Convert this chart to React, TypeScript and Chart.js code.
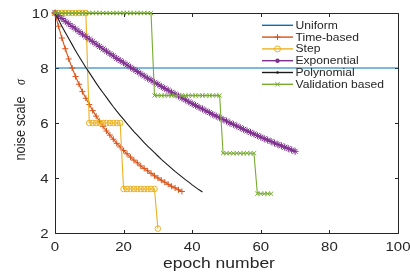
import React, { useEffect, useRef } from "react";
import { Chart, registerables } from "chart.js";

Chart.register(...registerables);

// ---- data ----
const xTicks = [0, 20, 40, 60, 80, 100];
const yTicks = [2, 4, 6, 8, 10];

const seriesNames = ["Uniform", "Time-based", "Step", "Exponential", "Polynomial", "Validation based"];
const seriesColors = ["#0072BD", "#D95319", "#EDB120", "#7E2F8E", "#1a1a1a", "#77AC30"];

const uniformEpochs = [0, 100];
const uniformValues = [8, 8];

const timeBasedValues = [
  10.0, 9.52, 9.09, 8.7, 8.33, 8.0, 7.69, 7.41, 7.14, 6.9, 6.67, 6.45, 6.25, 6.06, 5.88, 5.71,
  5.56, 5.41, 5.26, 5.13, 5.0, 4.88, 4.76, 4.65, 4.55, 4.44, 4.35, 4.26, 4.17, 4.08, 4.0, 3.92,
  3.85, 3.77, 3.7, 3.64, 3.57, 3.51,
];

const stepValues = [
  10, 10, 10, 10, 10, 10, 10, 10, 10, 10,
  6, 6, 6, 6, 6, 6, 6, 6, 6, 6,
  3.6, 3.6, 3.6, 3.6, 3.6, 3.6, 3.6, 3.6, 3.6, 3.6,
  2.16,
];

const exponentialValues = [
  10.0, 9.9, 9.8, 9.7, 9.61, 9.51, 9.42, 9.32, 9.23, 9.14, 9.05, 8.96, 8.87, 8.78, 8.69, 8.61,
  8.52, 8.44, 8.35, 8.27, 8.19, 8.11, 8.03, 7.95, 7.87, 7.79, 7.71, 7.63, 7.56, 7.48, 7.41, 7.33,
  7.26, 7.19, 7.12, 7.05, 6.98, 6.91, 6.84, 6.77, 6.7, 6.64, 6.57, 6.51, 6.44, 6.38, 6.31, 6.25,
  6.19, 6.13, 6.07, 6.0, 5.95, 5.89, 5.83, 5.77, 5.71, 5.66, 5.6, 5.54, 5.49, 5.43, 5.38, 5.33,
  5.27, 5.22, 5.17, 5.12, 5.07, 5.02, 4.97,
];

const polynomialValues = [
  10.0, 9.76, 9.52, 9.29, 9.07, 8.85, 8.63, 8.42, 8.22, 8.02, 7.83, 7.64, 7.45, 7.27, 7.1, 6.93,
  6.76, 6.59, 6.43, 6.28, 6.13, 5.98, 5.83, 5.69, 5.56, 5.42, 5.29, 5.16, 5.04, 4.92, 4.8, 4.68,
  4.57, 4.46, 4.35, 4.24, 4.14, 4.04, 3.94, 3.85, 3.75, 3.66, 3.57, 3.49,
];

const validationValues = [
  10, 10, 10, 10, 10, 10, 10, 10, 10, 10, 10, 10, 10, 10, 10, 10, 10, 10, 10, 10,
  10, 10, 10, 10, 10, 10, 10, 10, 10,
  7, 7, 7, 7, 7, 7, 7, 7, 7, 7, 7, 7, 7, 7, 7, 7, 7, 7, 7, 7,
  4.9, 4.9, 4.9, 4.9, 4.9, 4.9, 4.9, 4.9, 4.9, 4.9,
  3.43, 3.43, 3.43, 3.43, 3.43,
];

const toPoints = (vals: number[]) => vals.map((v, i) => ({ x: i, y: v }));

const TEXT = "#262626";
const FONT = '"Liberation Sans", Arial, sans-serif';

function stretchText(
  ctx: CanvasRenderingContext2D,
  text: string,
  x: number,
  y: number,
  align: CanvasTextAlign,
  sx: number
) {
  ctx.save();
  ctx.translate(x, y);
  ctx.scale(sx, 1);
  ctx.textAlign = align;
  ctx.fillText(text, 0, 0);
  ctx.restore();
}

function drawMarker(ctx: CanvasRenderingContext2D, kind: string, x: number, y: number, color: string) {
  ctx.save();
  ctx.strokeStyle = color;
  ctx.fillStyle = color;
  ctx.lineWidth = 1;
  ctx.beginPath();
  if (kind === "cross") {
    ctx.moveTo(x - 3, y); ctx.lineTo(x + 3, y);
    ctx.moveTo(x, y - 3); ctx.lineTo(x, y + 3);
    ctx.stroke();
  } else if (kind === "circle") {
    ctx.arc(x, y, 3, 0, Math.PI * 2);
    ctx.stroke();
  } else if (kind === "star") {
    ctx.arc(x, y, 2.2, 0, Math.PI * 2);
    ctx.fill();
  } else if (kind === "dot") {
    ctx.arc(x, y, 1.2, 0, Math.PI * 2);
    ctx.fill();
  } else if (kind === "x") {
    ctx.moveTo(x - 2.2, y - 2.2); ctx.lineTo(x + 2.2, y + 2.2);
    ctx.moveTo(x - 2.2, y + 2.2); ctx.lineTo(x + 2.2, y - 2.2);
    ctx.stroke();
  }
  ctx.restore();
}

const legendMarkers = ["none", "cross", "circle", "star", "dot", "x"];

const decorPlugin = {
  id: "decor",
  beforeDatasetsDraw(chart: any) {
    const { ctx, chartArea } = chart;
    const xs = chart.scales.x;
    const ys = chart.scales.y;
    const l = Math.round(chartArea.left) + 0.5;
    const r = Math.round(chartArea.right) + 0.5;
    const t = Math.round(chartArea.top) + 0.5;
    const b = Math.round(chartArea.bottom) + 0.5;
    ctx.save();
    ctx.strokeStyle = TEXT;
    ctx.lineWidth = 1;
    ctx.beginPath();
    ctx.rect(l, t, r - l, b - t);
    const tl = 3.5;
    for (const v of xTicks) {
      const px = Math.round(xs.getPixelForValue(v)) + 0.5;
      ctx.moveTo(px, b); ctx.lineTo(px, b - tl);
      ctx.moveTo(px, t); ctx.lineTo(px, t + tl);
    }
    for (const v of yTicks) {
      const py = Math.round(ys.getPixelForValue(v)) + 0.5;
      ctx.moveTo(l, py); ctx.lineTo(l + tl, py);
      ctx.moveTo(r, py); ctx.lineTo(r - tl, py);
    }
    ctx.stroke();
    ctx.restore();
  },
  afterDraw(chart: any) {
    const { ctx, chartArea } = chart;
    const xs = chart.scales.x;
    const ys = chart.scales.y;
    ctx.save();
    ctx.fillStyle = TEXT;
    ctx.textBaseline = "alphabetic";
    ctx.font = `12.5px ${FONT}`;
    for (const v of xTicks) {
      stretchText(ctx, String(v), xs.getPixelForValue(v), chartArea.bottom + 18, "center", 1.2);
    }
    for (const v of yTicks) {
      stretchText(ctx, String(v), chartArea.left - 6.5, ys.getPixelForValue(v) + 4.6, "right", 1.2);
    }
    // x title
    ctx.font = `14px ${FONT}`;
    stretchText(ctx, "epoch number", 219, 267.5, "center", 1.25);
    // y title
    ctx.save();
    ctx.translate(25, 128.5);
    ctx.rotate(-Math.PI / 2);
    ctx.scale(1, 1.2);
    ctx.font = `12.8px ${FONT}`;
    ctx.textAlign = "center";
    ctx.fillText("noise scale", 0, 0);
    ctx.restore();
    ctx.save();
    ctx.translate(24.5, 82);
    ctx.rotate(-Math.PI / 2);
    ctx.scale(1, 1.2);
    ctx.font = `italic 12px "Liberation Serif", serif`;
    ctx.textAlign = "center";
    ctx.fillText("σ", 0, 0);
    ctx.restore();

    // legend
    const rowY = [25.3, 37.1, 48.9, 60.7, 72.5, 84.3];
    ctx.font = `11px ${FONT}`;
    ctx.textBaseline = "middle";
    seriesNames.forEach((name, i) => {
      const y = rowY[i];
      const c = seriesColors[i];
      ctx.save();
      ctx.strokeStyle = c;
      ctx.lineWidth = 1.4;
      ctx.beginPath();
      ctx.moveTo(262, y);
      ctx.lineTo(293, y);
      ctx.stroke();
      ctx.restore();
      drawMarker(ctx, legendMarkers[i], 277.5, y, c);
      ctx.fillStyle = TEXT;
      stretchText(ctx, name, 295.5, y + 0.5, "left", 1.1);
    });
    ctx.restore();
  },
};

export default function App() {
  const ref = useRef<HTMLCanvasElement | null>(null);

  useEffect(() => {
    if (!ref.current) return;
    const base = {
      borderWidth: 1.1,
      pointBorderWidth: 1,
      tension: 0,
      clip: false as const,
      fill: false,
    };
    const chart = new Chart(ref.current, {
      type: "line",
      data: {
        datasets: [
          {
            ...base,
            label: seriesNames[0],
            data: uniformEpochs.map((e, i) => ({ x: e, y: uniformValues[i] })),
            borderColor: seriesColors[0],
            pointRadius: 0,
            order: 5,
          },
          {
            ...base,
            label: seriesNames[1],
            data: toPoints(timeBasedValues),
            borderColor: seriesColors[1],
            pointStyle: "cross",
            pointRadius: 3,
            pointBorderColor: seriesColors[1],
            pointBackgroundColor: seriesColors[1],
            order: 4,
          },
          {
            ...base,
            label: seriesNames[2],
            data: toPoints(stepValues),
            borderColor: seriesColors[2],
            pointStyle: "circle",
            pointRadius: 2.8,
            pointBorderColor: seriesColors[2],
            pointBackgroundColor: "rgba(0,0,0,0)",
            order: 3,
          },
          {
            ...base,
            label: seriesNames[3],
            data: toPoints(exponentialValues),
            borderColor: seriesColors[3],
            pointStyle: "star",
            pointRadius: 3.5,
            pointBorderColor: seriesColors[3],
            pointBackgroundColor: seriesColors[3],
            order: 2,
          },
          {
            ...base,
            label: seriesNames[4],
            data: toPoints(polynomialValues),
            borderColor: seriesColors[4],
            pointRadius: 0,
            order: 1,
          },
          {
            ...base,
            label: seriesNames[5],
            data: toPoints(validationValues),
            borderColor: seriesColors[5],
            pointStyle: "crossRot",
            pointRadius: 3,
            pointBorderColor: seriesColors[5],
            pointBackgroundColor: seriesColors[5],
            order: 0,
          },
        ],
      },
      options: {
        animation: false,
        responsive: false,
        maintainAspectRatio: false,
        layout: { padding: { left: 55, top: 13, right: 12, bottom: 39 } },
        plugins: { legend: { display: false }, tooltip: { enabled: false } },
        events: [],
        scales: {
          x: { type: "linear", min: 0, max: 100, display: false },
          y: { type: "linear", min: 2, max: 10, display: false },
        },
      },
      plugins: [decorPlugin],
    });
    return () => chart.destroy();
  }, []);

  return (
    <div style={{ position: "fixed", left: 0, top: 0, width: 410, height: 272, background: "#fff" }}>
      <canvas ref={ref} width={410} height={272} style={{ width: 410, height: 272, display: "block" }} />
    </div>
  );
}
